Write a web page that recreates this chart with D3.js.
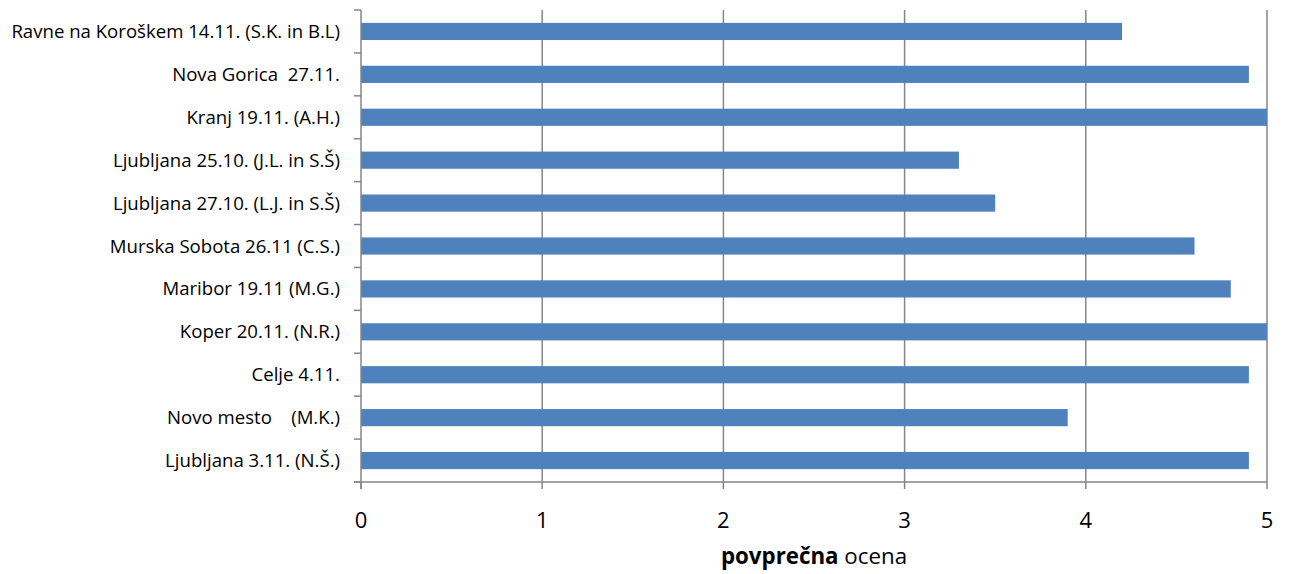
<!DOCTYPE html>
<html><head><meta charset="utf-8">
<script src="https://cdn.jsdelivr.net/npm/d3@7"></script>
<style>body{margin:0;background:#fff}svg{display:block}text{font-family:"Open Sans",sans-serif;white-space:pre}</style>
</head><body>
<svg id="c" width="1290" height="574"></svg>
<script>
const categories = ["Ravne na Koroškem 14.11. (S.K. in B.L)","Nova Gorica  27.11.","Kranj 19.11. (A.H.)","Ljubljana 25.10. (J.L. in S.Š)","Ljubljana 27.10. (L.J. in S.Š)","Murska Sobota 26.11 (C.S.)","Maribor 19.11 (M.G.)","Koper 20.11. (N.R.)","Celje 4.11.","Novo mesto    (M.K.)","Ljubljana 3.11. (N.Š.)"];
const values = [4.2,4.9,5.0,3.3,3.5,4.6,4.8,5.0,4.9,3.9,4.9];
const xTicks = [0,1,2,3,4,5];
const axisTitleBold = "povprečna";
const axisTitleRest = " ocena";

const svg = d3.select("#c");
const L=361,R=1267,T=10,B=482;
const x = d3.scaleLinear().domain([0,5]).range([L,R]);
const y = d3.scaleBand().domain(categories).range([T,B]).paddingInner(0.6).paddingOuter(0.3);
const grid="#868686";
svg.append("g").selectAll("line").data(xTicks.filter(d=>d>0)).join("line")
  .attr("x1",d=>x(d)).attr("x2",d=>x(d)).attr("y1",T).attr("y2",B+7)
  .attr("stroke",grid).attr("stroke-width",1.5);
svg.append("g").selectAll("rect").data(values).join("rect")
  .attr("x",x(0)).attr("y",(d,i)=>y(categories[i]))
  .attr("width",d=>x(d)-x(0)).attr("height",y.bandwidth())
  .attr("fill","#4F81BD");
const step = (B-T)/categories.length;
svg.append("line").attr("x1",L).attr("x2",L).attr("y1",T).attr("y2",B+7).attr("stroke",grid).attr("stroke-width",1.5);
svg.append("g").selectAll("line").data(d3.range(categories.length+1)).join("line")
  .attr("x1",L-7).attr("x2",L).attr("y1",i=>T+i*step).attr("y2",i=>T+i*step)
  .attr("stroke",grid).attr("stroke-width",1.5);
svg.append("line").attr("x1",L-7).attr("x2",R).attr("y1",B).attr("y2",B).attr("stroke",grid).attr("stroke-width",1.5);
svg.append("line").attr("x1",x(0)).attr("x2",x(0)).attr("y1",B).attr("y2",B+7).attr("stroke",grid).attr("stroke-width",1.5);
svg.append("g").selectAll("text").data(categories).join("text")
  .attr("x",340).attr("y",d=>y(d)+y.bandwidth()/2).attr("dy","0.35em")
  .attr("text-anchor","end").attr("font-size",18.6).attr("fill","#000").text(d=>d);
svg.append("g").selectAll("text").data(xTicks).join("text")
  .attr("x",d=>x(d)).attr("y",528).attr("text-anchor","middle")
  .attr("font-size",22).attr("fill","#000").text(d=>d);
const t = svg.append("text").attr("x",(L+R)/2).attr("y",564).attr("text-anchor","middle").attr("font-size",22.3).attr("fill","#000");
t.append("tspan").attr("font-weight","bold").text(axisTitleBold);
t.append("tspan").text(axisTitleRest);
</script>
</body></html>
